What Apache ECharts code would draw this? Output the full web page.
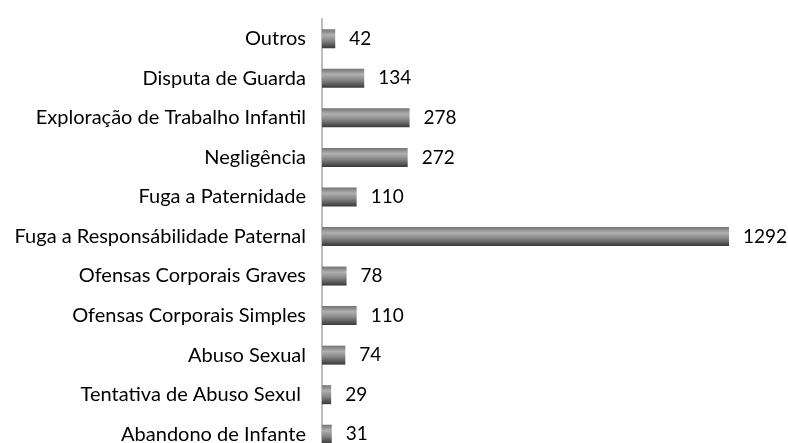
<!DOCTYPE html>
<html>
<head>
<meta charset="utf-8">
<script src="https://cdn.jsdelivr.net/npm/echarts@6/dist/echarts.min.js"></script>
<style>
  html, body { margin: 0; padding: 0; background: #fff; overflow: hidden; }
  #chart { width: 788px; height: 460px; }
</style>
</head>
<body>
<div id="chart"></div>
<script>
// categories bottom -> top
const categories = [
  "Abandono de Infante",
  "Tentativa de Abuso Sexul ",
  "Abuso Sexual",
  "Ofensas Corporais Simples",
  "Ofensas Corporais Graves",
  "Fuga a Responsábilidade Paternal",
  "Fuga a Paternidade",
  "Negligência",
  "Exploração de Trabalho Infantil",
  "Disputa de Guarda",
  "Outros",
];
const values = [31, 29, 74, 110, 78, 1292, 110, 272, 278, 134, 42];

const myChart = echarts.init(document.getElementById("chart"));
const option = {
  animation: false,
  textStyle: { fontFamily: "Lato" },
  grid: {
    left: 322,
    width: 441,
    top: 19,
    height: 435,
    containLabel: false,
  },
  xAxis: {
    type: "value",
    min: 0,
    max: 1400,
    show: false,
  },
  yAxis: {
    type: "category",
    data: categories,
    axisLine: { show: true, lineStyle: { color: "#bdbdbd", width: 2 } },
    axisTick: { show: false },
    axisLabel: {
      color: "#000",
      fontSize: 20,
      fontFamily: "Lato",
      margin: 16,
    },
  },
  series: [
    {
      type: "bar",
      data: values,
      barWidth: 19,
      label: {
        show: true,
        position: "right",
        distance: 14,
        color: "#000",
        fontSize: 19,
        fontFamily: "Lato",
      },
      itemStyle: {
        color: {
          type: "linear",
          x: 0, y: 0, x2: 0, y2: 1,
          colorStops: [
            { offset: 0, color: "#737373" },
            { offset: 0.3, color: "#b0b0b0" },
            { offset: 0.6, color: "#858585" },
            { offset: 1, color: "#383838" },
          ],
        },
      },
    },
  ],
};
myChart.setOption(option);
</script>
</body>
</html>
